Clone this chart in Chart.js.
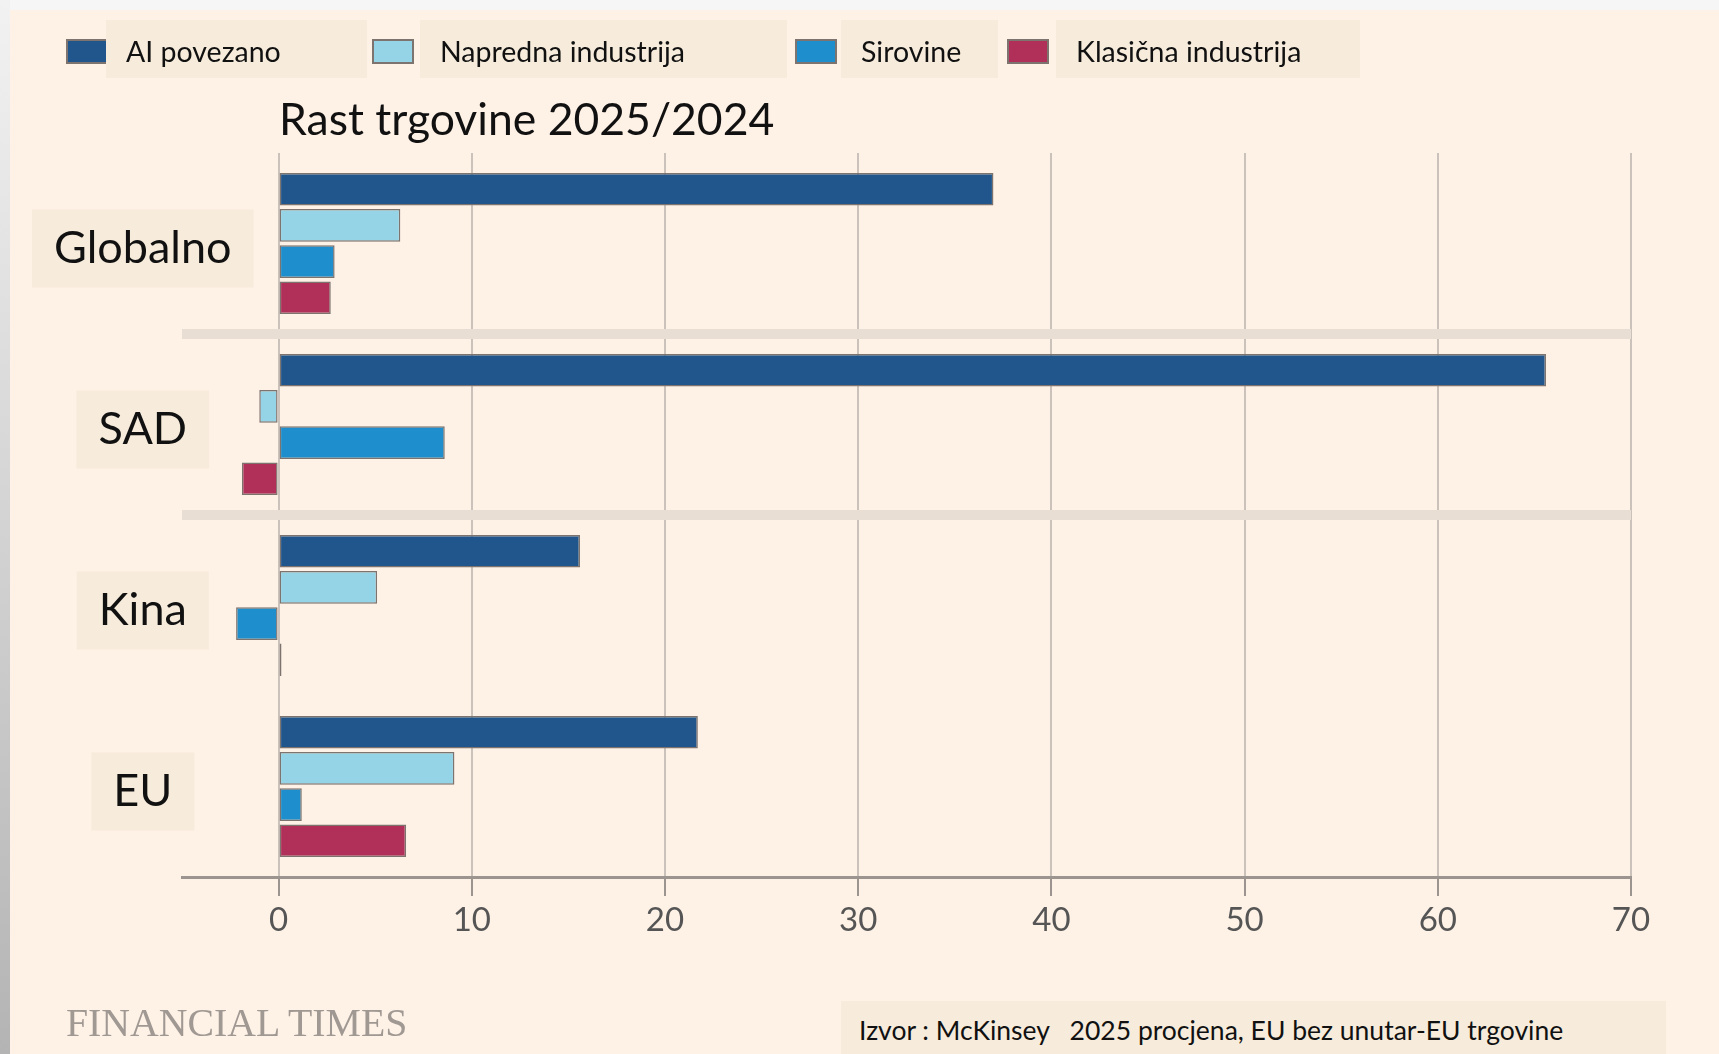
<!DOCTYPE html>
<html>
<head>
<meta charset="utf-8">
<script src="https://cdn.jsdelivr.net/npm/chart.js@4.4.1/dist/chart.umd.min.js"></script>
<style>
    body { margin: 0; }
    #wrap { position: relative; width: 1719px; height: 1054px; background: #fef1e6; overflow: hidden; font-family: Lato, sans-serif; }
    #edgeTop { position: absolute; left: 0; top: 0; width: 1719px; height: 10px; background: #f6f6f6; }
    #edgeLeft { position: absolute; left: 0; top: 0; width: 10px; height: 1054px; background: linear-gradient(#f2f2f2, #b4b4b4); }
    #chart { position: absolute; left: 0; top: 0; }
    .swatch { position: absolute; top: 39px; width: 38px; height: 21px; border: 2px solid #7d746f; }
    .legendBox { position: absolute; top: 20px; height: 58px; line-height: 62px; background: #f7ecdc; font-size: 28.5px; color: #111; padding-left: 20px; box-sizing: border-box; }
    #title { position: absolute; left: 279px; top: 91px; font-size: 44.5px; color: #111; }
    #ft { position: absolute; left: 66px; top: 998px; font-family: 'Liberation Serif', serif; font-size: 41px; color: #a09892; transform: scaleX(0.97); transform-origin: left top; }
    #source { position: absolute; left: 841px; top: 1001px; width: 825px; height: 60px; background: #f7ecdc; font-size: 26.5px; color: #111; padding-left: 18px; box-sizing: border-box; line-height: 58px; white-space: pre; }
</style>
</head>
<body>
<div id="wrap">
    <div id="edgeTop"></div>
    <div id="edgeLeft"></div>
    <canvas id="chart" width="1719" height="1054"></canvas>
    <div id="legend"></div>
    <div id="title">Rast trgovine 2025/2024</div>
    <div id="ft">FINANCIAL TIMES</div>
    <div id="source">Izvor : McKinsey   2025 procjena, EU bez unutar-EU trgovine</div>
</div>
<script>
    // podaci: rast trgovine 2025/2024 (%)
    const categories = ['Globalno', 'SAD', 'Kina', 'EU'];
    const seriesNames = ['AI povezano', 'Napredna industrija', 'Sirovine', 'Klasična industrija'];
    const aiValues = [37.0, 65.6, 15.6, 21.7];
    const advancedValues = [6.3, -1.0, 5.1, 9.1];
    const rawValues = [2.9, 8.6, -2.2, 1.2];
    const classicValues = [2.7, -1.9, 0.15, 6.6];
    const xTicks = [0, 10, 20, 30, 40, 50, 60, 70];

    const seriesColors = ['#21568c', '#95d3e6', '#1f8ecd', '#b1305a'];
    const borderGray = '#7d746f';

    // legenda: pozicija kvadrata, početak i širina okvira s tekstom
    const legendLayout = [
        { swatch: 66, box: 106, width: 261 },
        { swatch: 372, box: 420, width: 367 },
        { swatch: 795, box: 841, width: 157 },
        { swatch: 1007, box: 1056, width: 304 }
    ];

    const legendEl = document.getElementById('legend');
    seriesNames.forEach((name, i) => {
        const sw = document.createElement('div');
        sw.className = 'swatch';
        sw.style.left = legendLayout[i].swatch + 'px';
        sw.style.background = seriesColors[i];
        legendEl.appendChild(sw);
        const box = document.createElement('div');
        box.className = 'legendBox';
        box.style.left = legendLayout[i].box + 'px';
        box.style.width = legendLayout[i].width + 'px';
        box.textContent = name;
        legendEl.appendChild(box);
    });

    const allValues = [aiValues, advancedValues, rawValues, classicValues];

    const ctx = document.getElementById('chart').getContext('2d');
    new Chart(ctx, {
        type: 'bar',
        data: {
            labels: categories,
            datasets: seriesNames.map((name, i) => ({
                label: name,
                data: allValues[i],
                backgroundColor: seriesColors[i],
                borderColor: borderGray,
                borderWidth: 1.5,
                borderSkipped: false,
                categoryPercentage: 0.8,
                barPercentage: 0.9
            }))
        },
        options: {
            indexAxis: 'y',
            responsive: false,
            animation: false,
            layout: { padding: { left: 10, top: 153, right: 88, bottom: 117 } },
            plugins: {
                legend: { display: false },
                tooltip: { enabled: false },
                title: { display: false }
            },
            scales: {
                x: {
                    min: -5,
                    max: 70,
                    afterBuildTicks: function (scale) {
                        scale.ticks = xTicks.map(v => ({ value: v }));
                    },
                    afterFit: function (scale) {
                        scale.height = 60;
                    },
                    grid: {
                        color: '#cbc2bb',
                        lineWidth: 2,
                        tickLength: 19,
                        tickColor: '#9c948e',
                        tickWidth: 2
                    },
                    border: { color: '#9c948e', width: 3 },
                    ticks: {
                        color: '#555',
                        font: { family: 'Lato', size: 33 },
                        padding: 5,
                        maxRotation: 0
                    }
                },
                y: {
                    afterFit: function (scale) {
                        scale.width = 172;
                    },
                    grid: {
                        offset: true,
                        drawTicks: false,
                        lineWidth: 10,
                        color: function (c) {
                            return (c.index === 1 || c.index === 2) ? '#e9ded4' : 'rgba(0,0,0,0)';
                        }
                    },
                    border: { display: false },
                    ticks: {
                        // mirror, da oznake ne budu odrezane na rubu osi
                        mirror: true,
                        color: '#111',
                        font: { family: 'Lato', size: 45 },
                        crossAlign: 'center',
                        padding: -128,
                        labelOffset: 5,
                        showLabelBackdrop: true,
                        backdropColor: '#f7ecdc',
                        backdropPadding: { left: 22, right: 22, top: 12, bottom: 12 }
                    }
                }
            }
        }
    });
</script>
</body>
</html>
